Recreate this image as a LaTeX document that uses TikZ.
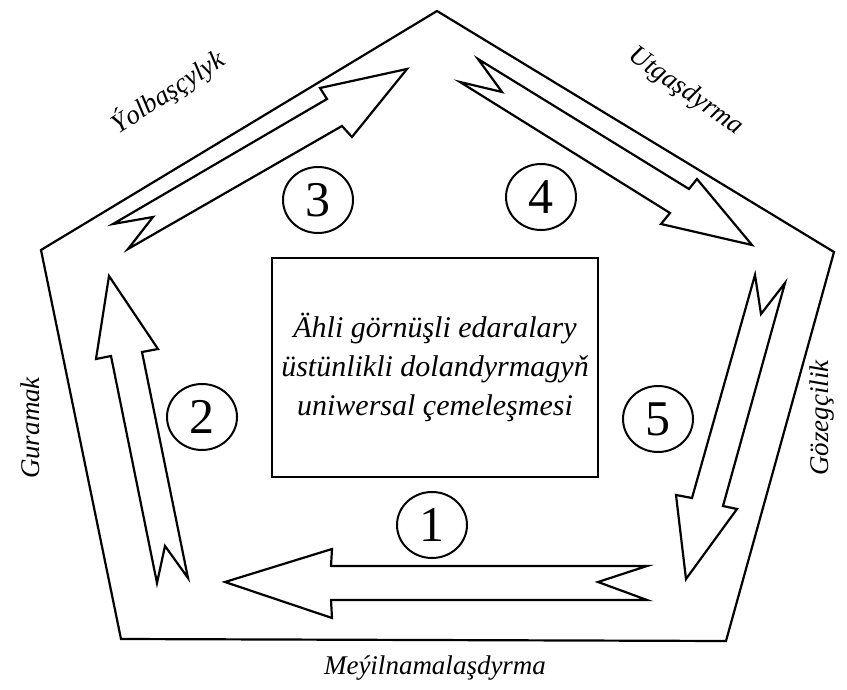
\documentclass[tikz,border=0pt]{standalone}
\usepackage{fontspec}
\setmainfont{Liberation Serif}
\usetikzlibrary{shapes.geometric}
\begin{document}
\begin{tikzpicture}[x=1pt,y=-1pt,
  outline/.style={draw=black,line width=2.2pt,line join=miter},
  bigarrow/.style={draw=black,line width=2.2pt,line join=miter,fill=white},
  numcircle/.style={ellipse,draw=black,line width=2pt,minimum width=70pt,minimum height=66pt,inner sep=0pt,font=\fontsize{50}{50}\selectfont},
  edgelabel/.style={font=\fontsize{27}{30}\selectfont\itshape,inner sep=0pt},
  centerbox/.style={draw=black,line width=2.2pt,minimum width=326pt,minimum height=219pt,align=center,font=\fontsize{30}{39}\selectfont\itshape}]
\useasboundingbox (0,0) rectangle (847,690);
% pentagon
\coordinate (pt) at (437,11);
\coordinate (pr) at (834,252);
\coordinate (pbr) at (726,641);
\coordinate (pbl) at (121,639);
\coordinate (pl) at (41,250);
\draw[outline] (pt) -- (pr) -- (pbr) -- (pbl) -- (pl) -- cycle;
% centre box
\node[centerbox] (box) at (435,367.5) {Ähli görnüşli edaralary\\üstünlikli dolandyrmagyň\\uniwersal çemeleşmesi};
% arrow 1
\draw[bigarrow] (225,582) -- (332,549) -- (331,566) -- (647,566) -- (598,582) -- (647,600) -- (331,600) -- (332,618) -- cycle;
% arrow 2
\draw[bigarrow] (109,276) -- (158,349) -- (142,352) -- (188,578) -- (165,546) -- (157,583) -- (111,356) -- (96,359) -- cycle;
% arrow 3
\draw[bigarrow] (407,69) -- (352,137) -- (342,126) -- (128,249) -- (153,217) -- (113,224) -- (327,99) -- (320,88) -- cycle;
% arrow 4
\draw[bigarrow] (478,59) -- (689,189) -- (697,179) -- (752,245) -- (661,224) -- (670,213) -- (460,82) -- (502,92) -- cycle;
% arrow 5
\draw[bigarrow] (755,275) -- (761,314) -- (785,283) -- (723,506) -- (737,509) -- (686,579) -- (676,495) -- (692,498) -- cycle;
% numbers
\node[numcircle] (c1) at (432,525) {1};
\node[numcircle] (c2) at (202,417) {2};
\node[numcircle] (c3) at (318,200) {3};
\node[numcircle] (c4) at (541,197) {4};
\node[numcircle] (c5) at (658,419) {5};
% edge labels
\node[edgelabel,rotate=33] (lead) at (168,92) {Ýolbaşçylyk};
\node[edgelabel,rotate=-35] (coord) at (686,92) {Utgaşdyrma};
\node[edgelabel,rotate=90] (org) at (30,428) {Guramak};
\node[edgelabel,rotate=90] (ctrl) at (822,418) {Gözegçilik};
\node[edgelabel] (plan) at (435,668) {Meýilnamalaşdyrma};
\end{tikzpicture}
\end{document}
